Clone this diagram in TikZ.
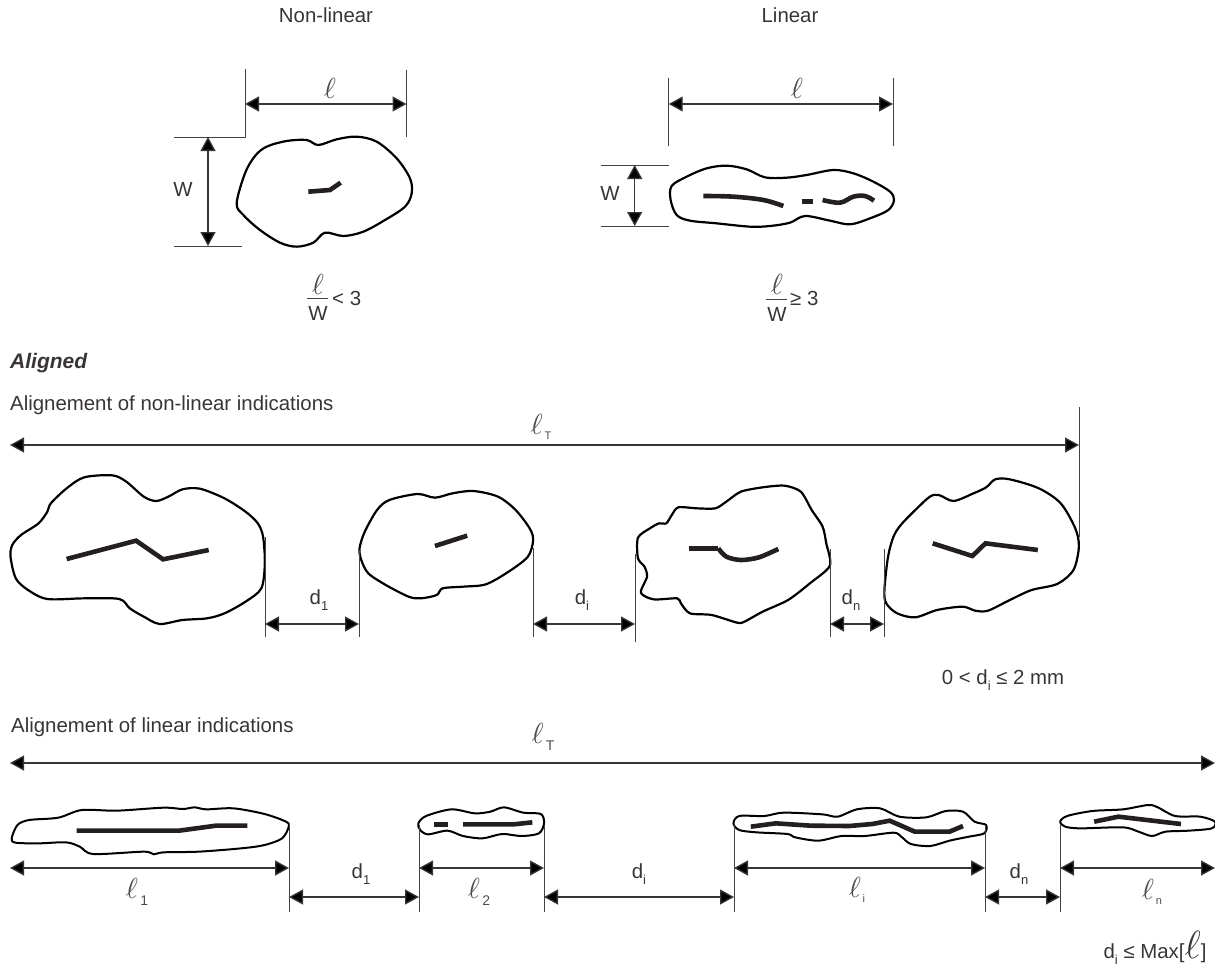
\documentclass[tikz,border=0pt]{standalone}
\usepackage{fontspec}
\setmainfont{Liberation Sans}
\usetikzlibrary{arrows.meta}
\definecolor{ink}{HTML}{231F20}
\newcommand{\myell}{\scalebox{2.9}{$\ell$}}
\newcommand{\smallsub}[1]{\raisebox{-5pt}{\fontsize{11}{11}\selectfont\,#1}}
\newcommand{\bigsub}[1]{\raisebox{-7pt}{\fontsize{14}{14}\selectfont\,#1}}
\newcommand{\dsub}[1]{d\raisebox{-6.5pt}{\fontsize{13}{13}\selectfont #1}}
\tikzset{
  x=1pt,y=-1pt,
  txt/.style={inner sep=0pt,text=ink!90,font=\fontsize{20.4}{24}\selectfont},
  lab/.style={inner sep=0pt,text=ink!80},
  dimline/.style={draw=ink!90,line width=1.3pt,{Triangle[length=14pt,width=15pt,fill=black]}-{Triangle[length=14pt,width=15pt,fill=black]},shorten <=0pt,shorten >=0pt},
  ext/.style={draw=ink!85,line width=0.9pt},
  blob/.style={draw=black,line width=2.2pt,line join=round},
  crack/.style={draw=ink,line width=4.6pt,line join=miter}
}
\begin{document}
\begin{tikzpicture}
\useasboundingbox[fill=white] (0,0) rectangle (1215,967);
% titles
\node[txt] (t1) at (326,15) {Non-linear};
\node[txt] (t2) at (790,15) {Linear};
\node[txt,font=\fontsize{21}{24}\selectfont\bfseries\itshape,anchor=west] (t3) at (10,363) {Aligned};
\node[txt,anchor=west] (t4) at (10,405) {Alignement of non-linear indications};
\node[txt,anchor=west] (t5) at (11,727) {Alignement of linear indications};
% top-left
\begin{scope}[shift={(130,50)},xscale=1/3,yscale=1/3]
\draw[blob] plot[smooth cycle,tension=0.55] coordinates {(320,460)(345,370)(375,318)(410,290)(470,273)(530,270)(565,285)(620,268)(680,260)(740,275)(800,325)(840,385)(845,430)(825,470)(765,510)(700,545)(640,558)(585,548)(550,578)(500,590)(450,578)(390,540)(340,495)};
\draw[crack] (535,425)--(600,420)--(632,398);
\end{scope}
\coordinate (a1) at (245,69); \coordinate (a2) at (245,137); \coordinate (a3) at (174,137);
\coordinate (a4) at (406.5,70); \coordinate (a5) at (406.5,137);
\coordinate (a6) at (174,246); \coordinate (a7) at (242,246);
\coordinate (a8) at (245,104); \coordinate (a9) at (406.5,104);
\coordinate (a10) at (208,137); \coordinate (a11) at (208,246);
\draw[ext] (a1)--(a2)--(a3);
\draw[ext] (a4)--(a5);
\draw[ext] (a6)--(a7);
\draw[dimline] (a8)--(a9);
\draw[dimline] (a10)--(a11);
\node[lab] (lA) at (330,88) {\myell};
\node[txt] (wA) at (183,189) {W};
\node[lab] (fA1) at (318,284) {\myell};
\coordinate (fa) at (307,298); \coordinate (fb) at (328,298);
\draw[ext] (fa)--(fb);
\node[txt] (fA2) at (318,313) {W};
\node[txt,anchor=west] (fA3) at (332,298) {< 3};
% top-right
\begin{scope}[shift={(590,50)},xscale=1/3,yscale=1/3]
\draw[blob] plot[smooth cycle,tension=0.55] coordinates {(245,408)(290,380)(350,355)(410,347)(470,358)(525,382)(590,383)(650,375)(730,360)(790,370)(850,395)(900,425)(912,450)(895,480)(840,505)(780,523)(720,512)(645,498)(600,518)(540,528)(480,530)(380,520)(300,512)(260,495)(242,450)};
\draw[crack] plot[smooth,tension=0.6] coordinates {(340,438)(430,440)(520,450)(580,468)};
\draw[crack] (635,455)--(668,455);
\draw[crack] plot[smooth,tension=0.6] coordinates {(698,450)(750,458)(790,440)(825,438)(852,452)};
\end{scope}
\coordinate (b1) at (668.7,78); \coordinate (b2) at (668.7,146);
\coordinate (b3) at (893,78); \coordinate (b4) at (893,146);
\coordinate (b5) at (600.7,165); \coordinate (b6) at (668.7,165);
\coordinate (b7) at (600.7,226); \coordinate (b8) at (668.7,226);
\coordinate (b9) at (668.7,104); \coordinate (b10) at (893,104);
\coordinate (b11) at (634.7,165); \coordinate (b12) at (634.7,226);
\draw[ext] (b1)--(b2); \draw[ext] (b3)--(b4); \draw[ext] (b5)--(b6); \draw[ext] (b7)--(b8);
\draw[dimline] (b9)--(b10);
\draw[dimline] (b11)--(b12);
\node[lab] (lB) at (797,88) {\myell};
\node[txt] (wB) at (610,193) {W};
\node[lab] (fB1) at (777,284) {\myell};
\coordinate (fc) at (766,299); \coordinate (fd) at (787,299);
\draw[ext] (fc)--(fd);
\node[txt] (fB2) at (777,314) {W};
\node[txt,anchor=west] (fB3) at (790,298) {≥ 3};
% row 2
\begin{scope}[shift={(0,400)},xscale=1/2.851,yscale=1/3]
\draw[blob] plot[smooth cycle,tension=0.5] coordinates {(30,470)(35,435)(60,405)(110,370)(135,335)(145,310)(190,265)(240,232)(320,226)(360,245)(410,290)(445,303)(480,290)(520,268)(570,266)(640,295)(700,335)(735,370)(750,410)(755,490)(745,565)(700,605)(640,640)(590,655)(520,660)(455,672)(410,650)(370,625)(340,597)(240,595)(135,597)(80,570)(45,535)};
\draw[crack] (190,477)--(388,422)--(465,478)--(595,450);
\draw[blob] plot[smooth cycle,tension=0.5] coordinates {(1025,445)(1040,395)(1075,330)(1110,300)(1190,282)(1240,293)(1290,280)(1350,273)(1420,290)(1470,330)(1510,385)(1520,420)(1505,470)(1450,515)(1385,553)(1320,560)(1262,565)(1245,585)(1200,595)(1165,590)(1100,555)(1050,520)(1030,480)};
\draw[crack] (1240,438)--(1332,407);
\end{scope}
\begin{scope}[shift={(530,400)},xscale=1/2.751,yscale=1/3]
\draw[blob] plot[smooth cycle,tension=0.45] coordinates {(297,413)(330,385)(355,370)(375,370)(390,345)(408,322)(460,325)(510,325)(540,305)(580,275)(640,262)(700,257)(745,275)(775,330)(805,380)(815,430)(825,497)(770,550)(710,600)(640,635)(590,665)(570,668)(500,645)(440,640)(415,610)(405,595)(340,598)(305,578)(322,530)(315,500)(297,475)};
\draw[crack] plot[smooth,tension=0.5] coordinates {(518,445)(540,470)(580,480)(630,472)(683,447)};
\draw[crack] (437,445)--(518,445);
\draw[blob] plot[smooth cycle,tension=0.5] coordinates {(975,570)(985,470)(1000,410)(1020,375)(1060,330)(1100,290)(1125,285)(1165,303)(1220,280)(1255,262)(1280,238)(1320,238)(1400,265)(1460,310)(1500,385)(1510,440)(1495,510)(1450,552)(1380,570)(1320,600)(1260,632)(1225,632)(1190,620)(1120,630)(1060,652)(1010,640)(980,610)};
\draw[crack] (1108,430)--(1217,468)--(1253,430)--(1397,450);
\end{scope}
\coordinate (c0) at (10,445); \coordinate (c1) at (1079,445); \coordinate (c2) at (1079,407); \coordinate (c3) at (1079,537);
\draw[ext] (c2)--(c3);
\draw[dimline] (c0)--(c1);
\node[lab] (lT2) at (541,427) {\myell\smallsub{T}};
\foreach \n/\xx/\ya/\yb in {d1/265/537/637,d2/359/550/637,d3/533/548/637,d4/635/554/642,d5/830/549/637,d6/884/549/637}{
  \coordinate (\n t) at (\xx,\ya); \coordinate (\n b) at (\xx,\yb);
  \draw[ext] (\n t)--(\n b);
}
\coordinate (d1mm) at (265,624); \coordinate (d2mm) at (359,624); \coordinate (d3mm) at (533,624); \coordinate (d4mm) at (635,624); \coordinate (d5mm) at (830,624); \coordinate (d6mm) at (884,624);
\draw[dimline] (d1mm)--(d2mm);
\draw[dimline] (d3mm)--(d4mm);
\draw[dimline] (d5mm)--(d6mm);
\node[txt] (dA) at (319,600) {\dsub{1}};
\node[txt] (dB) at (582,600) {\dsub{i}};
\node[txt] (dC) at (851,600) {\dsub{n}};
\node[txt] (cond1) at (1003,680) {0 < \dsub{i} ≤ 2 mm};
% row 3
\begin{scope}[shift={(0,710)},xscale=1/2.57,yscale=1/3]
\draw[blob,line width=2pt] plot[smooth cycle,tension=0.5] coordinates {(30,385)(45,345)(75,330)(150,323)(210,300)(300,302)(420,293)(470,297)(500,292)(530,298)(600,295)(680,312)(735,335)(742,350)(725,385)(680,405)(620,415)(510,425)(420,427)(395,433)(370,425)(240,432)(205,410)(170,397)(100,400)(40,398)};
\draw[crack] (197,362)--(460,362)--(555,347)--(636,347);
\draw[blob,line width=2pt] plot[smooth cycle,tension=0.5] coordinates {(1075,340)(1095,318)(1160,298)(1220,310)(1260,305)(1295,292)(1345,308)(1390,312)(1398,340)(1385,370)(1340,378)(1290,372)(1240,385)(1190,378)(1150,362)(1100,373)(1080,360)};
\draw[crack] (1116,343)--(1152,343);
\draw[crack] (1190,343)--(1320,343)--(1368,337);
\end{scope}
\begin{scope}[shift={(610,710)},xscale=1/2.592,yscale=1/3]
\draw[blob,line width=2pt] plot[smooth cycle,tension=0.5] coordinates {(320,340)(335,318)(400,318)(450,308)(550,313)(590,320)(640,298)(700,295)(750,320)(820,322)(870,303)(915,305)(945,335)(975,345)(970,370)(930,380)(880,392)(830,408)(780,402)(755,380)(735,368)(660,378)(600,378)(540,392)(480,382)(460,372)(380,367)(335,360)};
\draw[crack] (365,350)--(430,340)--(520,347)--(620,348)--(680,342)--(725,332)--(790,365)--(880,365)--(915,348);
\draw[blob,line width=2pt] plot[smooth cycle,tension=0.5] coordinates {(1167,335)(1185,318)(1250,303)(1330,298)(1395,285)(1420,292)(1465,318)(1530,320)(1568,335)(1560,355)(1500,362)(1440,365)(1405,378)(1370,365)(1330,352)(1220,355)(1180,350)};
\draw[crack] (1255,335)--(1318,320)--(1480,342);
\end{scope}
\coordinate (e0) at (10,763); \coordinate (e1) at (1215,763);
\draw[dimline] (e0)--(e1);
\node[lab] (lT3) at (543,737) {\myell\bigsub{T}};
\foreach \n/\xx/\ya in {g1/289/823,g2/419/825,g3/544/825,g4/734/825,g5/985/825,g6/1060/825}{
  \coordinate (\n t) at (\xx,\ya); \coordinate (\n b) at (\xx,912);
  \draw[ext] (\n t)--(\n b);
}
\coordinate (g0u) at (10,868); \coordinate (g7u) at (1215,868);
\coordinate (g1u) at (289,868); \coordinate (g2u) at (419,868); \coordinate (g3u) at (544,868); \coordinate (g4u) at (734,868); \coordinate (g5u) at (985,868); \coordinate (g6u) at (1060,868);
\coordinate (g1d) at (289,897); \coordinate (g2d) at (419,897); \coordinate (g3d) at (544,897); \coordinate (g4d) at (734,897); \coordinate (g5d) at (985,897); \coordinate (g6d) at (1060,897);
\draw[dimline] (g0u)--(g1u);
\draw[dimline] (g2u)--(g3u);
\draw[dimline] (g4u)--(g5u);
\draw[dimline] (g6u)--(g7u);
\draw[dimline] (g1d)--(g2d);
\draw[dimline] (g3d)--(g4d);
\draw[dimline] (g5d)--(g6d);
\node[lab] (l1) at (137,892) {\myell\bigsub{1}};
\node[lab] (l2) at (479,892) {\myell\bigsub{2}};
\node[lab] (li) at (857,890) {\myell\smallsub{i}};
\node[lab] (ln) at (1152,892) {\myell\smallsub{n}};
\node[txt] (e1t) at (361,874) {\dsub{1}};
\node[txt] (e2t) at (639,874) {\dsub{i}};
\node[txt] (e3t) at (1019,874) {\dsub{n}};
\node[txt,anchor=base] (cond2) at (1155,958) {\dsub{i} ≤ Max[\scalebox{1.9}{$\ell$}]};
\end{tikzpicture}
\end{document}
